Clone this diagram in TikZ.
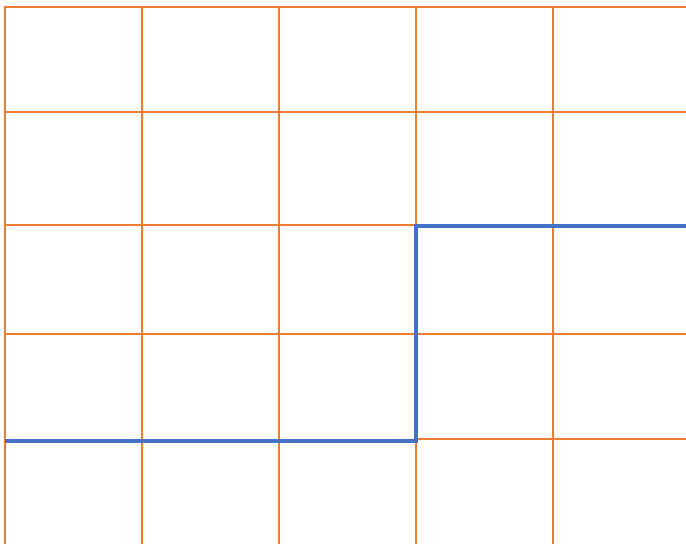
\documentclass[tikz,border=0pt]{standalone}
\definecolor{gridorange}{RGB}{237,125,49}
\definecolor{pathblue}{RGB}{68,114,196}
\tikzset{gridline/.style={draw=gridorange,line width=2pt}}
\tikzset{route/.style={draw=pathblue,line width=4pt}}

\begin{document}
\begin{tikzpicture}[x=1pt,y=-1pt]
  \useasboundingbox (0,0) rectangle (686,544);
  % grid
  \foreach \gx in {5,142,279,416,553}
    \draw[gridline] (\gx,6) -- (\gx,544);
  \foreach \gy in {7,112,225,334}
    \draw[gridline] (4,\gy) -- (686,\gy);
  \draw[gridline] (416,439) -- (686,439);
  % stepped path
  \coordinate (start) at (5,441);
  \coordinate (corner1) at (416,441);
  \coordinate (corner2) at (416,226);
  \coordinate (finish) at (686,226);
  \draw[route] (start) -- (corner1) -- (corner2) -- (finish);
\end{tikzpicture}
\end{document}
